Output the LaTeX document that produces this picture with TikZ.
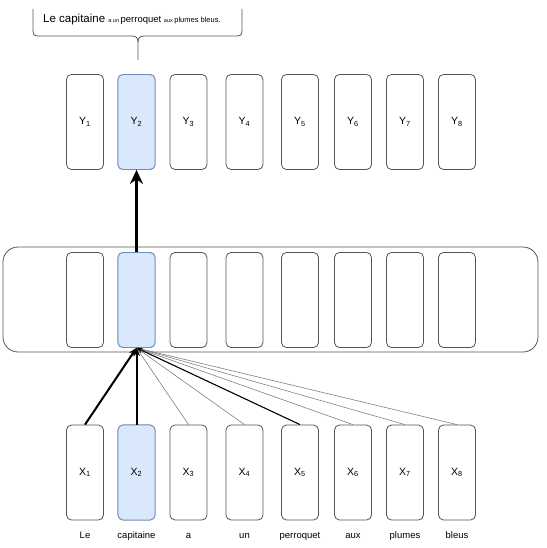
\documentclass[tikz,border=0pt]{standalone}
\usepackage{fontspec}
\setmainfont{Liberation Sans}
\usetikzlibrary{arrows.meta}
\definecolor{hlfill}{HTML}{DAE8FC}
\definecolor{hldraw}{HTML}{6C8EBF}
\definecolor{boxline}{HTML}{555555}
\begin{document}
\begin{tikzpicture}[x=1pt,y=-1pt,
  cell/.style={draw=boxline, line width=0.8pt, rounded corners=5pt, fill=white,
    minimum width=37pt, minimum height=95pt, inner sep=0pt, font=\fontsize{10.5}{12}\selectfont},
  hl/.style={fill=hlfill, draw=hldraw},
  word/.style={inner sep=0pt, font=\fontsize{9.5}{11}\selectfont},
  strong/.style={line width=2pt, -{Stealth[length=8pt,width=7pt]}},
  mid/.style={line width=1.1pt, -{Stealth[length=6pt,width=5pt]}},
  weak/.style={line width=0.6pt, draw=black!50, -{Stealth[length=5pt,width=4pt]}},
  big/.style={line width=3.5pt, -{Stealth[length=14pt,width=13pt]}}]
\useasboundingbox (0,0) rectangle (546,548);
% callout brace
\draw[boxline, line width=0.8pt] (33,9) -- (33,30) .. controls (33,35) and (34,36) .. (39,36) -- (132,36)
  .. controls (136,36) and (138,38) .. (138,42) -- (138,60);
\draw[boxline, line width=0.8pt] (242,9) -- (242,30) .. controls (242,35) and (241,36) .. (236,36) -- (144,36)
  .. controls (140,36) and (138,38) .. (138,42);
\node[inner sep=0pt, anchor=base west] (sent) at (43,23) {\fontsize{11.5}{12}\selectfont Le capitaine \fontsize{5.5}{6}\selectfont a un \fontsize{9.5}{10}\selectfont perroquet \fontsize{5.5}{6}\selectfont aux \fontsize{7.5}{8}\selectfont plumes bleus.};
% big box
\draw[boxline, line width=0.8pt, rounded corners=15pt] (3,247) rectangle (538,352);
% rows
\foreach \i/\x in {1/85,2/136.5,3/188.5,4/244.5,5/300,6/353,7/405,8/457}{
  \node[cell] (Y\i) at (\x,122) {Y\textsubscript{\i}};
  \node[cell] (H\i) at (\x,300) {};
  \node[cell] (X\i) at (\x,472.5) {X\textsubscript{\i}};
}
\node[cell,hl] at (Y2) {Y\textsubscript{2}};
\node[cell,hl] (H2) at (136.5,300) {};
\node[cell,hl] at (X2) {X\textsubscript{2}};
% words
\foreach \i/\w in {1/Le,2/capitaine,3/a,4/un,5/perroquet,6/aux,7/plumes,8/bleus}{
  \node[word, anchor=base] (w\i) at ([yshift=-18pt]X\i.south) {\w};
}
% arrows
\draw[big] (H2.north) -- (Y2.south);
\foreach \i in {3,4,6,7,8}{ \draw[weak] (X\i.north) -- (H2.south); }
\draw[mid] (X5.north) -- (H2.south);
\draw[strong] (X1.north) -- (H2.south);
\draw[strong] (X2.north) -- (H2.south);
\end{tikzpicture}
\end{document}
